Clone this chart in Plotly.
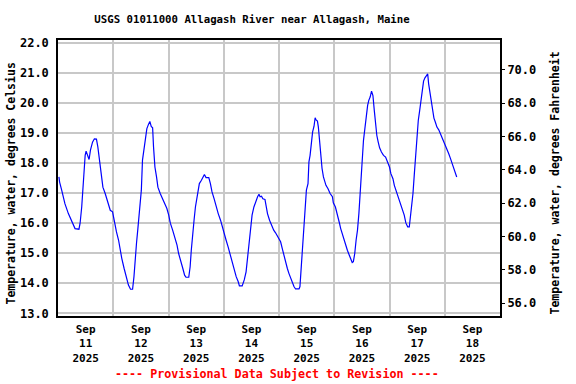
import pandas as pd
import plotly.graph_objects as go

# Hours since 2025-09-11 00:00 and water temperature (deg C)
hours = [0.4, 0.7, 1.6, 3.0, 4.5, 6.0, 7.4, 9.1, 9.6, 10.3, 10.7, 11.3, 11.8, 12.2, 12.9, 13.5,
         14.1, 15.0, 15.8, 16.7, 17.3, 18.0, 18.6, 19.5, 20.5, 21.6, 22.7, 23.7, 24.5, 25.4,
         26.3, 27.0, 27.7, 28.7, 29.6, 30.6, 31.5, 32.4, 33.0, 33.5, 34.1, 34.7, 35.4, 36.2,
         36.7, 37.3, 37.9, 38.6, 39.3, 39.9, 40.5, 41.1, 41.5, 42.1, 42.8, 43.4, 44.4, 45.4,
         46.6, 47.3, 48.1, 48.8, 49.8, 50.7, 51.7, 52.4, 53.3, 54.2, 55.0, 55.6, 56.8, 57.4,
         57.9, 58.5, 59.1, 59.7, 60.3, 60.8, 61.4, 62.3, 63.2, 63.6, 64.3, 65.5, 66.2, 66.9,
         67.8, 68.7, 69.6, 70.6, 71.3, 72.2, 73.0, 73.9, 74.8, 75.6, 76.5, 77.4, 78.3, 78.8,
         80.0, 80.9, 81.7, 82.3, 82.9, 83.6, 84.3, 85.1, 85.8, 86.7, 87.3, 87.8, 88.4, 89.0,
         89.9, 90.5, 91.0, 91.9, 92.8, 93.7, 94.5, 95.4, 96.3,
         96.7, 97.4, 98.2, 98.9, 99.6, 100.3, 101.1, 101.8, 102.5, 103.2, 104.7, 105.1, 105.7,
         106.3, 106.9, 107.4, 107.9, 108.6, 109.0, 109.5, 110.1, 110.6, 111.2, 111.7, 112.1,
         112.7, 113.1, 113.7, 114.1, 114.7, 115.3, 115.9, 116.4, 117.3, 118.2, 119.2, 119.6,
         120.5, 121.1, 121.7, 122.3, 122.8, 123.6, 124.3, 125.0, 125.7, 126.5, 127.2, 127.8,
         128.3, 128.9, 129.5, 130.1, 130.7, 131.3, 131.7, 132.1, 132.7, 133.3, 133.9, 134.5,
         135.0, 135.6, 136.2, 136.8, 137.4, 137.9, 138.5, 139.1, 139.7, 140.5, 141.4, 142.3,
         143.2, 144.0, 144.6, 145.5, 146.1, 146.8, 147.5, 148.2, 149.0, 149.7, 150.4, 151.1,
         151.9, 152.6, 153.0, 153.6, 154.2, 154.8, 155.4, 155.9, 156.5, 157.1, 157.7, 158.3,
         158.8, 159.4, 160.0, 160.6, 161.0, 161.6, 162.2, 162.8, 163.3, 163.9, 164.6, 165.4,
         166.1, 166.8, 167.6, 168.3, 169.0, 169.7, 170.5, 171.2, 171.9, 172.6, 173.2]

temp_c = [17.54, 17.37, 17.1, 16.65, 16.32, 16.05, 15.82, 15.8, 16.0, 16.54, 17.1, 17.65, 18.26,
          18.4, 18.26, 18.12, 18.43, 18.7, 18.81, 18.8, 18.54, 18.1, 17.56, 17.2, 16.99, 16.71,
          16.43, 16.38, 16.0, 15.71, 15.44, 15.1, 14.83, 14.5, 14.22, 13.94, 13.8, 13.8, 14.22,
          14.88, 15.33, 15.82, 16.54, 17.1, 18.1, 18.43, 18.87, 19.15, 19.29, 19.39, 19.22,
          19.18, 18.54, 17.87, 17.54, 17.2, 16.99, 16.82, 16.65, 16.49, 16.27, 16.0, 15.77,
          15.55, 15.27, 14.99, 14.77, 14.5, 14.27, 14.2, 14.2, 14.55, 15.1, 15.77, 16.1, 16.54,
          16.88, 17.1, 17.32, 17.43, 17.54, 17.62, 17.52, 17.52, 17.32, 17.04, 16.82, 16.54,
          16.32, 16.1, 15.93, 15.71, 15.44, 15.21, 14.94, 14.72, 14.44, 14.22, 14.05, 13.91,
          13.91, 14.11, 14.38, 14.83, 15.33, 15.88, 16.27, 16.54, 16.71, 16.88, 16.96, 16.88,
          16.9, 16.81, 16.79, 16.54, 16.32, 16.1, 15.93, 15.77, 15.68, 15.55, 15.44,
          15.38, 15.16, 14.88, 14.66, 14.5, 14.33, 14.16, 14.0, 13.89, 13.81, 13.81, 13.89,
          14.66, 15.21, 16.05, 16.65, 17.1, 17.32, 18.04, 18.26, 18.76, 19.04, 19.22, 19.51,
          19.44, 19.4, 19.2, 18.63, 18.2, 17.82, 17.54, 17.34, 17.26, 17.15, 16.99, 16.88,
          16.68, 16.54, 16.38, 16.21, 15.99, 15.82, 15.6, 15.44, 15.3, 15.1, 14.94, 14.77,
          14.69, 14.72, 14.99, 15.44, 15.77, 16.32, 16.99, 17.54, 18.2, 18.76, 19.15, 19.64,
          19.92, 20.09, 20.2, 20.4, 20.25, 19.75, 19.26, 18.92, 18.7, 18.51, 18.37, 18.26,
          18.2, 18.04, 17.87, 17.65, 17.48, 17.26, 17.1, 16.93, 16.77, 16.6, 16.43, 16.27,
          16.01, 15.88, 15.88, 16.16, 16.49, 16.99, 17.65, 18.32, 18.87, 19.42, 19.75, 20.09,
          20.53, 20.73, 20.84, 20.92, 20.97, 20.64, 20.31, 20.03, 19.7, 19.5, 19.37, 19.2,
          19.11, 18.98, 18.87, 18.76, 18.59, 18.48, 18.32, 18.15, 17.98, 17.82, 17.65, 17.54]

start = pd.Timestamp("2025-09-11 00:00")
day_labels = ["Sep<br>11<br>2025", "Sep<br>12<br>2025", "Sep<br>13<br>2025", "Sep<br>14<br>2025",
              "Sep<br>15<br>2025", "Sep<br>16<br>2025", "Sep<br>17<br>2025", "Sep<br>18<br>2025"]

times = [start + pd.Timedelta(hours=h) for h in hours]
temp_f = [c * 1.8 + 32 for c in temp_c]
noon_ticks = [start + pd.Timedelta(days=i, hours=12) for i in range(len(day_labels))]
midnight_ticks = [start + pd.Timedelta(days=i) for i in range(len(day_labels) + 1)]

c_range = [12.91, 22.10]
f_range = [v * 1.8 + 32 for v in c_range]

FONT = "DejaVu Sans Mono"

fig = go.Figure()
fig.add_trace(go.Scatter(x=times, y=temp_c, mode="lines",
                         line=dict(color="#0000ff", width=1.2), showlegend=False))
fig.add_trace(go.Scatter(x=times, y=temp_f, mode="lines", yaxis="y2",
                         line=dict(color="rgba(0,0,0,0)", width=0), showlegend=False,
                         hoverinfo="skip"))

fig.update_layout(
    width=576, height=384,
    margin=dict(l=58, r=76, t=40, b=68),
    paper_bgcolor="white", plot_bgcolor="white",
    font=dict(family=FONT, size=12, color="black", weight="bold"),
    title=dict(text="USGS 01011000 Allagash River near Allagash, Maine",
               x=(252 - 58) / 442, xref="paper", xanchor="center",
               y=1 - 19 / 384, yref="container", yanchor="middle",
               font=dict(family=FONT, size=10.7, weight="bold")),
    xaxis=dict(type="date", range=[midnight_ticks[0], midnight_ticks[-1]],
               tickmode="array", tickvals=noon_ticks, ticktext=day_labels,
               ticks="outside", ticklen=2, tickcolor="rgba(0,0,0,0)",
               showgrid=False, tickfont=dict(size=11),
               showline=True, linecolor="black", linewidth=1.5, mirror=True,
               minor=dict(tickmode="array", tickvals=midnight_ticks, showgrid=True,
                          gridcolor="#c8c8c8", gridwidth=1.5, ticks=""),
               zeroline=False, automargin=False),
    yaxis=dict(range=c_range, tick0=13, dtick=1, tickformat=".1f",
               ticks="outside", ticklen=5, tickcolor="rgba(0,0,0,0)",
               showgrid=True, gridcolor="#c8c8c8", gridwidth=1.5,
               showline=True, linecolor="black", linewidth=1.5, mirror=True,
               zeroline=False, tickfont=dict(size=12), automargin=False),
    yaxis2=dict(range=f_range, overlaying="y", side="right", tick0=56, dtick=2,
                tickformat=".1f", ticks="outside", ticklen=4, tickcolor="black",
                showgrid=False, zeroline=False, showline=False, tickfont=dict(size=12),
                automargin=False),
    annotations=[
        dict(text="Temperature, water, degrees Celsius", xref="paper", yref="paper",
             x=-47 / 442, y=0.48, xanchor="center", yanchor="middle", textangle=-90,
             showarrow=False, font=dict(family=FONT, size=11.5, weight="bold")),
        dict(text="Temperature, water, degrees Fahrenheit", xref="paper", yref="paper",
             x=(555 - 58) / 442, y=0.48, xanchor="center", yanchor="middle", textangle=-90,
             showarrow=False, font=dict(family=FONT, size=11.5, weight="bold")),
        dict(text="---- Provisional Data Subject to Revision ----", xref="paper", yref="paper",
             x=(277 - 58) / 442, y=(316 - 374) / 276.5, xanchor="center", yanchor="middle",
             showarrow=False, font=dict(family=FONT, size=11.7, color="#ff0000", weight="bold")),
    ],
)

fig.write_html("out.html", config={"displayModeBar": False},
               post_script="document.body.style.margin='0';")
